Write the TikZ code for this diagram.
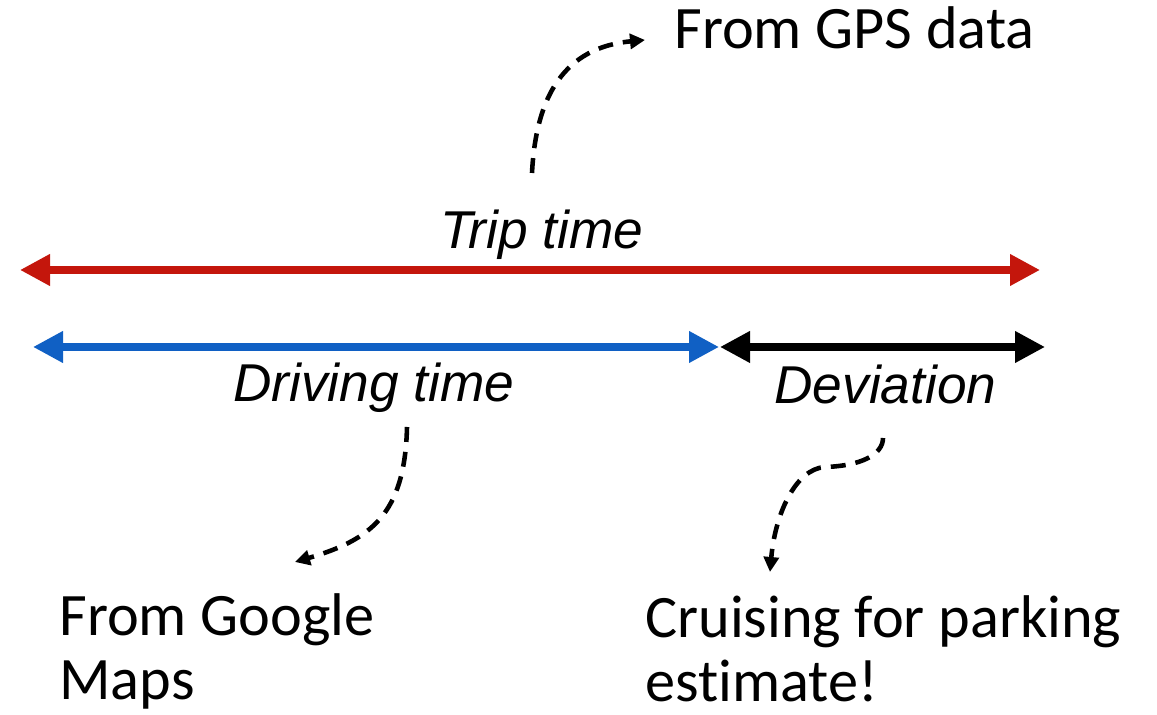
\documentclass[tikz,border=0pt]{standalone}
\usepackage{fontspec}
\setmainfont{Carlito}[Ligatures=NoCommon]
\newfontfamily\helv{Liberation Sans}
\usetikzlibrary{arrows.meta}
\definecolor{tripred}{RGB}{196,22,12}
\definecolor{driveblue}{RGB}{16,96,196}
\tikzset{
  span/.style={line width=4pt,{Triangle[length=0.6cm,width=0.6cm]}-{Triangle[length=0.6cm,width=0.6cm]}},
  lbl/.style={anchor=base west,inner sep=0pt,font=\helv\itshape\fontsize{30.3pt}{34pt}\selectfont},
  note/.style={anchor=base west,inner sep=0pt,align=left,font=\fontsize{34.3pt}{36.5pt}\selectfont},
  link/.style={line width=2.6pt,dash pattern=on 8.5pt off 5.7pt,-{Triangle[length=0.3cm,width=0.3cm]}}
}
\begin{document}
\begin{tikzpicture}
\useasboundingbox (0,0) rectangle (23.14,14.3);
% time spans
\coordinate (tripL) at (0.4,8.9);
\coordinate (tripR) at (20.8,8.9);
\coordinate (driveL) at (0.66,7.36);
\coordinate (driveR) at (14.38,7.36);
\coordinate (devL) at (14.40,7.36);
\coordinate (devR) at (20.9,7.36);
\draw[span,tripred] (tripL) -- (tripR);
\draw[span,driveblue] (driveL) -- (driveR);
\draw[span,black] (devL) -- (devR);
\node[lbl] (trip) at (8.8,9.32) {Trip time};
\node[lbl] (drive) at (4.66,6.26) {Driving time};
\node[lbl] (dev) at (15.48,6.22) {Deviation};
% sources (base = last line)
\node[note] (gps) at (13.48,13.32) {From GPS data};
\node[note] (google) at (1.18,0.3) {From Google\\Maps};
\node[note] (cruise) at (12.9,0.27) {Cruising for parking\\estimate!};
\coordinate (gpsS) at (10.64,10.84);
\coordinate (gpsE) at (12.9,13.5);
\coordinate (googleS) at (8.14,5.76);
\coordinate (googleE) at (5.9,3.06);
\coordinate (cruiseS) at (17.66,5.54);
\coordinate (cruiseE) at (15.4,2.86);
\draw[link] (gpsS) .. controls (10.72,12.4) and (11.3,13.35) .. (gpsE);
\draw[link] (googleS) .. controls (8.1,4.0) and (7.4,3.5) .. (googleE);
\draw[link] (cruiseS) .. controls (17.66,5.2) and (17.2,4.98) .. (16.5,4.96)
  .. controls (15.9,4.92) and (15.5,4.0) .. (cruiseE);
\end{tikzpicture}
\end{document}
